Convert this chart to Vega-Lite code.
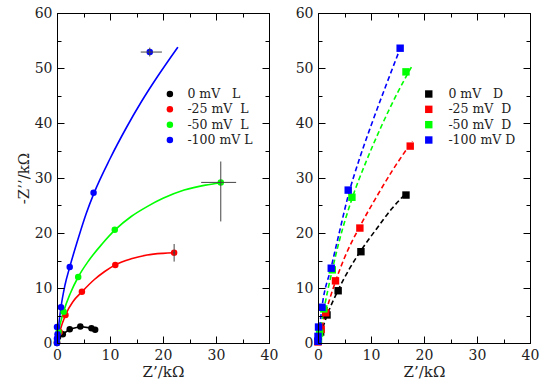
{
  "$schema": "https://vega.github.io/schema/vega-lite/v6.json",
  "autosize": {"type": "pad"},
  "padding": {"left": 15, "top": 5, "right": 0, "bottom": 0},
  "background": "white",
  "config": {
    "view": {"stroke": "#000", "strokeWidth": 1},
    "font": "DejaVu Serif",
    "axis": {"domain": true, "ticks": true, "labels": true, "tickColor": "#000", "domainColor": "#000", "labelFont": "DejaVu Serif", "titleFont": "DejaVu Serif", "zindex": 1}
  },
  "datasets": {
    "Lp": [
      {"s": "\u00a0\u00a00 mV\u00a0\u00a0\u00a0L", "k": "b", "x": 0, "y": 0},
      {"s": "\u00a0\u00a00 mV\u00a0\u00a0\u00a0L", "k": "b", "x": 0.2, "y": 1.1},
      {"s": "\u00a0\u00a00 mV\u00a0\u00a0\u00a0L", "k": "b", "x": 1.1, "y": 1.6},
      {"s": "\u00a0\u00a00 mV\u00a0\u00a0\u00a0L", "k": "b", "x": 2.4, "y": 2.5},
      {"s": "\u00a0\u00a00 mV\u00a0\u00a0\u00a0L", "k": "b", "x": 4.4, "y": 3.0},
      {"s": "\u00a0\u00a00 mV\u00a0\u00a0\u00a0L", "k": "b", "x": 6.5, "y": 2.7},
      {"s": "\u00a0\u00a00 mV\u00a0\u00a0\u00a0L", "k": "b", "x": 7.2, "y": 2.4},
      {"s": "-25 mV\u00a0\u00a0L", "k": "r", "x": 0, "y": 0.2},
      {"s": "-25 mV\u00a0\u00a0L", "k": "r", "x": 0.5, "y": 2},
      {"s": "-25 mV\u00a0\u00a0L", "k": "r", "x": 1.6, "y": 5.1},
      {"s": "-25 mV\u00a0\u00a0L", "k": "r", "x": 4.7, "y": 9.3},
      {"s": "-25 mV\u00a0\u00a0L", "k": "r", "x": 11, "y": 14.2},
      {"s": "-25 mV\u00a0\u00a0L", "k": "r", "x": 22.1, "y": 16.4},
      {"s": "-50 mV\u00a0\u00a0L", "k": "g", "x": 0, "y": 0.4},
      {"s": "-50 mV\u00a0\u00a0L", "k": "g", "x": 0.3, "y": 2},
      {"s": "-50 mV\u00a0\u00a0L", "k": "g", "x": 1.25, "y": 5.7},
      {"s": "-50 mV\u00a0\u00a0L", "k": "g", "x": 4, "y": 12},
      {"s": "-50 mV\u00a0\u00a0L", "k": "g", "x": 10.9, "y": 20.6},
      {"s": "-50 mV\u00a0\u00a0L", "k": "g", "x": 30.9, "y": 29.2},
      {"s": "-100 mV L", "k": "u", "x": 0, "y": 0},
      {"s": "-100 mV L", "k": "u", "x": 0, "y": 0.8},
      {"s": "-100 mV L", "k": "u", "x": 0.1, "y": 1.6},
      {"s": "-100 mV L", "k": "u", "x": 0, "y": 2.9},
      {"s": "-100 mV L", "k": "u", "x": 0.75, "y": 6.5},
      {"s": "-100 mV L", "k": "u", "x": 2.4, "y": 13.8},
      {"s": "-100 mV L", "k": "u", "x": 6.9, "y": 27.3},
      {"s": "-100 mV L", "k": "u", "x": 17.5, "y": 52.9}
    ],
    "Lc": [
      {"s": "-25 mV\u00a0\u00a0L", "x": 0, "y": 0},
      {"s": "-25 mV\u00a0\u00a0L", "x": 0.5, "y": 2},
      {"s": "-25 mV\u00a0\u00a0L", "x": 1.6, "y": 5.1},
      {"s": "-25 mV\u00a0\u00a0L", "x": 3, "y": 7.5},
      {"s": "-25 mV\u00a0\u00a0L", "x": 4.7, "y": 9.3},
      {"s": "-25 mV\u00a0\u00a0L", "x": 7, "y": 11.5},
      {"s": "-25 mV\u00a0\u00a0L", "x": 9, "y": 13},
      {"s": "-25 mV\u00a0\u00a0L", "x": 11, "y": 14.2},
      {"s": "-25 mV\u00a0\u00a0L", "x": 14, "y": 15.3},
      {"s": "-25 mV\u00a0\u00a0L", "x": 17, "y": 16},
      {"s": "-25 mV\u00a0\u00a0L", "x": 20, "y": 16.3},
      {"s": "-25 mV\u00a0\u00a0L", "x": 22.1, "y": 16.4},
      {"s": "-50 mV\u00a0\u00a0L", "x": 0, "y": 0},
      {"s": "-50 mV\u00a0\u00a0L", "x": 0.3, "y": 2},
      {"s": "-50 mV\u00a0\u00a0L", "x": 1.25, "y": 5.7},
      {"s": "-50 mV\u00a0\u00a0L", "x": 2.5, "y": 9},
      {"s": "-50 mV\u00a0\u00a0L", "x": 4, "y": 12},
      {"s": "-50 mV\u00a0\u00a0L", "x": 6, "y": 15},
      {"s": "-50 mV\u00a0\u00a0L", "x": 8.5, "y": 18},
      {"s": "-50 mV\u00a0\u00a0L", "x": 11, "y": 20.6},
      {"s": "-50 mV\u00a0\u00a0L", "x": 14, "y": 23},
      {"s": "-50 mV\u00a0\u00a0L", "x": 17, "y": 24.8},
      {"s": "-50 mV\u00a0\u00a0L", "x": 20, "y": 26.3},
      {"s": "-50 mV\u00a0\u00a0L", "x": 24, "y": 27.8},
      {"s": "-50 mV\u00a0\u00a0L", "x": 28, "y": 28.7},
      {"s": "-50 mV\u00a0\u00a0L", "x": 30.8, "y": 29.1},
      {"s": "-100 mV L", "x": 0, "y": 0},
      {"s": "-100 mV L", "x": 0.3, "y": 3},
      {"s": "-100 mV L", "x": 0.75, "y": 6.5},
      {"s": "-100 mV L", "x": 1.5, "y": 10.5},
      {"s": "-100 mV L", "x": 2.4, "y": 13.8},
      {"s": "-100 mV L", "x": 4, "y": 19},
      {"s": "-100 mV L", "x": 5.5, "y": 23.5},
      {"s": "-100 mV L", "x": 7, "y": 27.3},
      {"s": "-100 mV L", "x": 10, "y": 33.5},
      {"s": "-100 mV L", "x": 13, "y": 39},
      {"s": "-100 mV L", "x": 16, "y": 44},
      {"s": "-100 mV L", "x": 19, "y": 48.5},
      {"s": "-100 mV L", "x": 22.8, "y": 53.8}
    ],
    "LL": [
      {"s": "\u00a0\u00a00 mV\u00a0\u00a0\u00a0L"},
      {"s": "-25 mV\u00a0\u00a0L"},
      {"s": "-50 mV\u00a0\u00a0L"},
      {"s": "-100 mV L"}
    ],
    "E": [
      {"x": 17.5, "y": 52.9, "xmin": 15.8, "xmax": 19.8, "ymin": 52.1, "ymax": 53.7},
      {"x": 30.9, "y": 29.2, "xmin": 27.2, "xmax": 33.8, "ymin": 22.1, "ymax": 33},
      {"x": 22.1, "y": 16.4, "xmin": 21.9, "xmax": 22.3, "ymin": 14.8, "ymax": 18}
    ],
    "Rp": [
      {"s": "\u00a0\u00a00 mV\u00a0\u00a0\u00a0D", "x": 0, "y": 0.3},
      {"s": "\u00a0\u00a00 mV\u00a0\u00a0\u00a0D", "x": 0.5, "y": 2},
      {"s": "\u00a0\u00a00 mV\u00a0\u00a0\u00a0D", "x": 1.7, "y": 5.1},
      {"s": "\u00a0\u00a00 mV\u00a0\u00a0\u00a0D", "x": 3.8, "y": 9.5},
      {"s": "\u00a0\u00a00 mV\u00a0\u00a0\u00a0D", "x": 8.1, "y": 16.6},
      {"s": "\u00a0\u00a00 mV\u00a0\u00a0\u00a0D", "x": 16.6, "y": 26.9},
      {"s": "-25 mV\u00a0\u00a0D", "x": 0, "y": 0.2},
      {"s": "-25 mV\u00a0\u00a0D", "x": 0.6, "y": 2.5},
      {"s": "-25 mV\u00a0\u00a0D", "x": 1.45, "y": 5.5},
      {"s": "-25 mV\u00a0\u00a0D", "x": 3.3, "y": 11.3},
      {"s": "-25 mV\u00a0\u00a0D", "x": 7.9, "y": 20.9},
      {"s": "-25 mV\u00a0\u00a0D", "x": 17.4, "y": 35.8},
      {"s": "-50 mV\u00a0\u00a0D", "x": 0.1, "y": 0.5},
      {"s": "-50 mV\u00a0\u00a0D", "x": 0.3, "y": 1.8},
      {"s": "-50 mV\u00a0\u00a0D", "x": 1.1, "y": 6.2},
      {"s": "-50 mV\u00a0\u00a0D", "x": 2.7, "y": 13.3},
      {"s": "-50 mV\u00a0\u00a0D", "x": 6.4, "y": 26.5},
      {"s": "-50 mV\u00a0\u00a0D", "x": 16.6, "y": 49.3},
      {"s": "-100 mV D", "x": 0, "y": 0.3},
      {"s": "-100 mV D", "x": 0, "y": 1.2},
      {"s": "-100 mV D", "x": 0.1, "y": 2.9},
      {"s": "-100 mV D", "x": 0.75, "y": 6.5},
      {"s": "-100 mV D", "x": 2.5, "y": 13.6},
      {"s": "-100 mV D", "x": 5.7, "y": 27.8},
      {"s": "-100 mV D", "x": 15.5, "y": 53.6}
    ],
    "Rc": [
      {"s": "\u00a0\u00a00 mV\u00a0\u00a0\u00a0D", "x": 0, "y": 0},
      {"s": "\u00a0\u00a00 mV\u00a0\u00a0\u00a0D", "x": 1.7, "y": 5},
      {"s": "\u00a0\u00a00 mV\u00a0\u00a0\u00a0D", "x": 3.8, "y": 9.6},
      {"s": "\u00a0\u00a00 mV\u00a0\u00a0\u00a0D", "x": 6, "y": 13.6},
      {"s": "\u00a0\u00a00 mV\u00a0\u00a0\u00a0D", "x": 8.1, "y": 16.8},
      {"s": "\u00a0\u00a00 mV\u00a0\u00a0\u00a0D", "x": 11, "y": 20.7},
      {"s": "\u00a0\u00a00 mV\u00a0\u00a0\u00a0D", "x": 14, "y": 24.5},
      {"s": "\u00a0\u00a00 mV\u00a0\u00a0\u00a0D", "x": 16.8, "y": 27.4},
      {"s": "-25 mV\u00a0\u00a0D", "x": 0, "y": 0},
      {"s": "-25 mV\u00a0\u00a0D", "x": 1.45, "y": 5.5},
      {"s": "-25 mV\u00a0\u00a0D", "x": 3.3, "y": 11.2},
      {"s": "-25 mV\u00a0\u00a0D", "x": 5, "y": 15.5},
      {"s": "-25 mV\u00a0\u00a0D", "x": 7.9, "y": 21.2},
      {"s": "-25 mV\u00a0\u00a0D", "x": 11, "y": 26.5},
      {"s": "-25 mV\u00a0\u00a0D", "x": 14, "y": 31.3},
      {"s": "-25 mV\u00a0\u00a0D", "x": 17.8, "y": 36.7},
      {"s": "-50 mV\u00a0\u00a0D", "x": 0, "y": 0},
      {"s": "-50 mV\u00a0\u00a0D", "x": 1.1, "y": 6},
      {"s": "-50 mV\u00a0\u00a0D", "x": 2.7, "y": 13.3},
      {"s": "-50 mV\u00a0\u00a0D", "x": 4, "y": 18.5},
      {"s": "-50 mV\u00a0\u00a0D", "x": 6.4, "y": 26.2},
      {"s": "-50 mV\u00a0\u00a0D", "x": 9, "y": 32.8},
      {"s": "-50 mV\u00a0\u00a0D", "x": 12, "y": 39.5},
      {"s": "-50 mV\u00a0\u00a0D", "x": 15, "y": 45.5},
      {"s": "-50 mV\u00a0\u00a0D", "x": 17.7, "y": 50.3},
      {"s": "-100 mV D", "x": 0, "y": 0},
      {"s": "-100 mV D", "x": 0.75, "y": 6.5},
      {"s": "-100 mV D", "x": 2.5, "y": 13.8},
      {"s": "-100 mV D", "x": 4, "y": 20},
      {"s": "-100 mV D", "x": 5.7, "y": 26.8},
      {"s": "-100 mV D", "x": 8, "y": 34},
      {"s": "-100 mV D", "x": 10, "y": 39.5},
      {"s": "-100 mV D", "x": 12.5, "y": 46},
      {"s": "-100 mV D", "x": 15.6, "y": 53.8}
    ],
    "RL": [
      {"s": "\u00a0\u00a00 mV\u00a0\u00a0\u00a0D"},
      {"s": "-25 mV\u00a0\u00a0D"},
      {"s": "-50 mV\u00a0\u00a0D"},
      {"s": "-100 mV D"}
    ]
  },
  "spacing": 15,
  "resolve": {"scale": {"fill": "independent", "stroke": "independent"}},
  "hconcat": [
    {
      "width": 212,
      "height": 330,
      "view": {"stroke": "#000", "strokeWidth": 1},
      "resolve": {"axis": {"x": "independent", "y": "independent"}, "scale": {"y": "independent"}},
      "layer": [
        {
          "data": {"name": "Lc"},
          "mark": {"type": "line", "interpolate": "monotone", "strokeWidth": 1.6},
          "encoding": {
            "x": {"field": "x", "type": "quantitative", "scale": {"domain": [0, 40], "nice": false}, "axis": {"orient": "bottom", "zindex": 1, "values": [0, 10, 20, 30, 40], "domain": true, "ticks": true, "tickSize": -7, "tickColor": "black", "tickWidth": 1, "tickOpacity": 1, "domainColor": "#000", "labelPadding": 12, "labelFont": "DejaVu Serif", "labelFontSize": 14, "labelColor": "#222", "labelFlush": false, "title": "Z’/kΩ", "titleFont": "DejaVu Serif", "titleFontSize": 15, "titleFontWeight": "normal", "titleColor": "#222", "titlePadding": 2, "grid": false}},
            "y": {"field": "y", "type": "quantitative", "scale": {"domain": [0, 60], "nice": false}, "axis": {"orient": "left", "zindex": 1, "values": [0, 10, 20, 30, 40, 50, 60], "domain": true, "ticks": true, "tickSize": -7, "tickColor": "black", "tickWidth": 1, "tickOpacity": 1, "domainColor": "#000", "labelPadding": 12, "labelFont": "DejaVu Serif", "labelFontSize": 14, "labelColor": "#222", "labelFlush": false, "title": "-Z’’/kΩ", "titleFont": "DejaVu Serif", "titleFontSize": 15, "titleFontWeight": "normal", "titleColor": "#222", "titlePadding": 3, "grid": false}},
            "stroke": {"field": "s", "type": "nominal", "scale": {"domain": ["\u00a0\u00a00 mV\u00a0\u00a0\u00a0L", "-25 mV\u00a0\u00a0L", "-50 mV\u00a0\u00a0L", "-100 mV L"], "range": ["#000000", "#ff0000", "#00ff00", "#0000ff"]}, "legend": null}
          }
        },
        {
          "data": {"name": "Lp"},
          "transform": [{"filter": "datum.k == 'b'"}],
          "mark": {"type": "line", "strokeWidth": 1.6, "color": "#000"},
          "encoding": {
            "x": {"field": "x", "type": "quantitative", "axis": null},
            "y": {"field": "y", "type": "quantitative", "scale": {"domain": [0, 60], "nice": false}, "axis": null}
          }
        },
        {
          "data": {"name": "Lp"},
          "mark": {"type": "circle", "size": 42, "opacity": 1},
          "encoding": {
            "x": {"field": "x", "type": "quantitative", "axis": {"orient": "bottom", "zindex": 1, "values": [5, 15, 25, 35], "ticks": true, "tickSize": -4, "tickColor": "black", "tickOpacity": 1, "labels": false, "domain": false, "title": null, "grid": false}},
            "y": {"field": "y", "type": "quantitative", "scale": {"domain": [0, 60], "nice": false}, "axis": {"orient": "left", "zindex": 1, "values": [5, 15, 25, 35, 45, 55], "ticks": true, "tickSize": -4, "tickColor": "black", "tickOpacity": 1, "labels": false, "domain": false, "title": null, "grid": false}},
            "fill": {"field": "s", "type": "nominal", "scale": {"domain": ["\u00a0\u00a00 mV\u00a0\u00a0\u00a0L", "-25 mV\u00a0\u00a0L", "-50 mV\u00a0\u00a0L", "-100 mV L"], "range": ["#000000", "#ff0000", "#00ff00", "#0000ff"]}, "legend": null}
          }
        },
        {
          "data": {"name": "E"},
          "mark": {"type": "rule", "color": "#444", "strokeWidth": 1},
          "encoding": {
            "x": {"field": "xmin", "type": "quantitative", "axis": {"orient": "top", "zindex": 1, "values": [0, 10, 20, 30, 40], "domain": true, "ticks": true, "tickSize": -7, "tickColor": "black", "tickOpacity": 1, "domainColor": "#000", "labels": false, "title": null, "grid": false}},
            "x2": {"field": "xmax"},
            "y": {"field": "y", "type": "quantitative", "scale": {"domain": [0, 60], "nice": false}, "axis": {"orient": "right", "zindex": 1, "values": [0, 10, 20, 30, 40, 50, 60], "domain": true, "ticks": true, "tickSize": -7, "tickColor": "black", "tickOpacity": 1, "domainColor": "#000", "labels": false, "title": null, "grid": false}}
          }
        },
        {
          "data": {"name": "E"},
          "mark": {"type": "rule", "color": "#444", "strokeWidth": 1},
          "encoding": {
            "x": {"field": "x", "type": "quantitative", "axis": {"orient": "top", "zindex": 1, "values": [5, 15, 25, 35], "ticks": true, "tickSize": -4, "tickColor": "black", "tickOpacity": 1, "labels": false, "domain": false, "title": null, "grid": false}},
            "y": {"field": "ymin", "type": "quantitative", "scale": {"domain": [0, 60], "nice": false}, "axis": {"orient": "right", "zindex": 1, "values": [5, 15, 25, 35, 45, 55], "ticks": true, "tickSize": -4, "tickColor": "black", "tickOpacity": 1, "labels": false, "domain": false, "title": null, "grid": false}},
            "y2": {"field": "ymax"}
          }
        },
        {
          "data": {"name": "LL"},
          "mark": {"type": "circle", "size": 42, "opacity": 1},
          "encoding": {
            "x": {"datum": 21.3, "type": "quantitative", "axis": null},
            "y": {"field": "s", "type": "ordinal", "sort": null, "scale": {"type": "point", "domain": ["\u00a0\u00a00 mV\u00a0\u00a0\u00a0L", "-25 mV\u00a0\u00a0L", "-50 mV\u00a0\u00a0L", "-100 mV L"], "range": [81, 127], "padding": 0}, "axis": null},
            "fill": {"field": "s", "type": "nominal", "legend": null}
          }
        },
        {
          "data": {"name": "LL"},
          "mark": {"type": "text", "align": "left", "baseline": "middle", "font": "DejaVu Serif", "fontSize": 12.5, "color": "#222"},
          "encoding": {
            "x": {"datum": 24.6, "type": "quantitative", "axis": null},
            "y": {"field": "s", "type": "ordinal", "sort": null, "scale": {"type": "point", "domain": ["\u00a0\u00a00 mV\u00a0\u00a0\u00a0L", "-25 mV\u00a0\u00a0L", "-50 mV\u00a0\u00a0L", "-100 mV L"], "range": [81, 127], "padding": 0}, "axis": null},
            "text": {"field": "s"}
          }
        }
      ]
    },
    {
      "width": 212,
      "height": 330,
      "view": {"stroke": "#000", "strokeWidth": 1},
      "resolve": {"axis": {"x": "independent", "y": "independent"}, "scale": {"y": "independent"}},
      "layer": [
        {
          "data": {"name": "Rc"},
          "mark": {"type": "line", "interpolate": "monotone", "strokeWidth": 1.6, "strokeDash": [5, 3]},
          "encoding": {
            "x": {"field": "x", "type": "quantitative", "scale": {"domain": [0, 40], "nice": false}, "axis": {"orient": "bottom", "zindex": 1, "values": [0, 10, 20, 30, 40], "domain": true, "ticks": true, "tickSize": -7, "tickColor": "black", "tickWidth": 1, "tickOpacity": 1, "domainColor": "#000", "labelPadding": 12, "labelFont": "DejaVu Serif", "labelFontSize": 14, "labelColor": "#222", "labelFlush": false, "title": "Z’/kΩ", "titleFont": "DejaVu Serif", "titleFontSize": 15, "titleFontWeight": "normal", "titleColor": "#222", "titlePadding": 2, "grid": false}},
            "y": {"field": "y", "type": "quantitative", "scale": {"domain": [0, 60], "nice": false}, "axis": {"orient": "left", "zindex": 1, "values": [0, 10, 20, 30, 40, 50, 60], "domain": true, "ticks": true, "tickSize": -7, "tickColor": "black", "tickWidth": 1, "tickOpacity": 1, "domainColor": "#000", "labelPadding": 12, "labelFont": "DejaVu Serif", "labelFontSize": 14, "labelColor": "#222", "labelFlush": false, "title": null, "grid": false}},
            "stroke": {"field": "s", "type": "nominal", "scale": {"domain": ["\u00a0\u00a00 mV\u00a0\u00a0\u00a0D", "-25 mV\u00a0\u00a0D", "-50 mV\u00a0\u00a0D", "-100 mV D"], "range": ["#000000", "#ff0000", "#00ff00", "#0000ff"]}, "legend": null}
          }
        },
        {
          "data": {"name": "Rp"},
          "mark": {"type": "square", "size": 55, "opacity": 1},
          "encoding": {
            "x": {"field": "x", "type": "quantitative", "axis": {"orient": "bottom", "zindex": 1, "values": [5, 15, 25, 35], "ticks": true, "tickSize": -4, "tickColor": "black", "tickOpacity": 1, "labels": false, "domain": false, "title": null, "grid": false}},
            "y": {"field": "y", "type": "quantitative", "scale": {"domain": [0, 60], "nice": false}, "axis": {"orient": "left", "zindex": 1, "values": [5, 15, 25, 35, 45, 55], "ticks": true, "tickSize": -4, "tickColor": "black", "tickOpacity": 1, "labels": false, "domain": false, "title": null, "grid": false}},
            "fill": {"field": "s", "type": "nominal", "scale": {"domain": ["\u00a0\u00a00 mV\u00a0\u00a0\u00a0D", "-25 mV\u00a0\u00a0D", "-50 mV\u00a0\u00a0D", "-100 mV D"], "range": ["#000000", "#ff0000", "#00ff00", "#0000ff"]}, "legend": null}
          }
        },
        {
          "data": {"name": "Rp"},
          "mark": {"type": "point", "opacity": 0},
          "encoding": {
            "x": {"field": "x", "type": "quantitative", "axis": {"orient": "top", "zindex": 1, "values": [0, 10, 20, 30, 40], "domain": true, "ticks": true, "tickSize": -7, "tickColor": "black", "tickOpacity": 1, "domainColor": "#000", "labels": false, "title": null, "grid": false}},
            "y": {"field": "y", "type": "quantitative", "scale": {"domain": [0, 60], "nice": false}, "axis": {"orient": "right", "zindex": 1, "values": [0, 10, 20, 30, 40, 50, 60], "domain": true, "ticks": true, "tickSize": -7, "tickColor": "black", "tickOpacity": 1, "domainColor": "#000", "labels": false, "title": null, "grid": false}}
          }
        },
        {
          "data": {"name": "Rp"},
          "mark": {"type": "point", "opacity": 0},
          "encoding": {
            "x": {"field": "x", "type": "quantitative", "axis": {"orient": "top", "zindex": 1, "values": [5, 15, 25, 35], "ticks": true, "tickSize": -4, "tickColor": "black", "tickOpacity": 1, "labels": false, "domain": false, "title": null, "grid": false}},
            "y": {"field": "y", "type": "quantitative", "scale": {"domain": [0, 60], "nice": false}, "axis": {"orient": "right", "zindex": 1, "values": [5, 15, 25, 35, 45, 55], "ticks": true, "tickSize": -4, "tickColor": "black", "tickOpacity": 1, "labels": false, "domain": false, "title": null, "grid": false}}
          }
        },
        {
          "data": {"name": "RL"},
          "mark": {"type": "square", "size": 55, "opacity": 1},
          "encoding": {
            "x": {"datum": 20.9, "type": "quantitative", "axis": null},
            "y": {"field": "s", "type": "ordinal", "sort": null, "scale": {"type": "point", "domain": ["\u00a0\u00a00 mV\u00a0\u00a0\u00a0D", "-25 mV\u00a0\u00a0D", "-50 mV\u00a0\u00a0D", "-100 mV D"], "range": [81, 127], "padding": 0}, "axis": null},
            "fill": {"field": "s", "type": "nominal", "legend": null}
          }
        },
        {
          "data": {"name": "RL"},
          "mark": {"type": "text", "align": "left", "baseline": "middle", "font": "DejaVu Serif", "fontSize": 12.5, "color": "#222"},
          "encoding": {
            "x": {"datum": 24.6, "type": "quantitative", "axis": null},
            "y": {"field": "s", "type": "ordinal", "sort": null, "scale": {"type": "point", "domain": ["\u00a0\u00a00 mV\u00a0\u00a0\u00a0D", "-25 mV\u00a0\u00a0D", "-50 mV\u00a0\u00a0D", "-100 mV D"], "range": [81, 127], "padding": 0}, "axis": null},
            "text": {"field": "s"}
          }
        }
      ]
    }
  ]
}
